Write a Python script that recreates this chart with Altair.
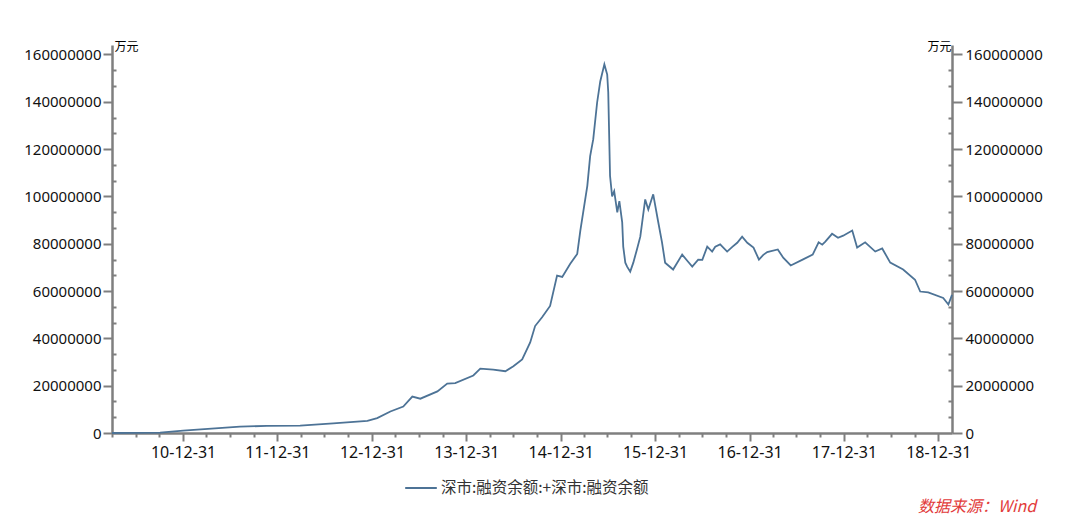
import altair as alt
import pandas as pd

# ---- data (values in 万元) ----
dates = [
    "2010-03-31", "2010-06-30", "2010-10-03", "2010-12-31", "2011-08-08", "2011-11-20",
    "2012-03-28", "2012-08-03", "2012-12-13", "2013-01-20", "2013-03-12", "2013-05-01",
    "2013-06-05", "2013-07-06", "2013-09-10", "2013-10-18", "2013-11-18", "2014-01-27",
    "2014-02-23", "2014-04-14", "2014-05-31", "2014-07-01", "2014-08-04", "2014-09-04",
    "2014-09-23", "2014-10-20", "2014-11-20", "2014-12-17", "2015-01-06", "2015-02-06",
    "2015-03-05", "2015-03-17", "2015-04-13", "2015-04-24", "2015-05-06", "2015-05-21",
    "2015-06-02", "2015-06-18", "2015-06-29", "2015-07-03", "2015-07-10", "2015-07-18",
    "2015-07-26", "2015-08-07", "2015-08-15", "2015-08-26", "2015-08-30", "2015-09-07",
    "2015-09-14", "2015-09-26", "2015-10-08", "2015-10-22", "2015-11-04", "2015-11-23",
    "2015-12-05", "2015-12-24", "2016-01-12", "2016-01-27", "2016-02-08", "2016-03-10",
    "2016-04-14", "2016-05-07", "2016-05-23", "2016-06-15", "2016-07-01", "2016-07-20",
    "2016-08-08", "2016-08-20", "2016-09-08", "2016-10-05", "2016-10-25", "2016-11-13",
    "2016-12-02", "2016-12-22", "2017-01-15", "2017-02-05", "2017-02-22", "2017-03-09",
    "2017-04-19", "2017-05-10", "2017-06-08", "2017-07-24", "2017-09-01", "2017-09-24",
    "2017-10-08", "2017-10-19", "2017-11-15", "2017-12-08", "2017-12-28", "2018-02-01",
    "2018-02-20", "2018-03-23", "2018-05-01", "2018-05-28", "2018-06-28", "2018-08-17",
    "2018-10-02", "2018-10-22", "2018-11-22", "2019-01-19", "2019-02-08", "2019-02-22",
]
values_m = [
    0.0, 0.05, 0.2, 1.0, 2.7, 3.0,
    3.1, 4.1, 5.1, 6.3, 9.1, 11.2,
    15.4, 14.5, 17.6, 20.9, 21.1, 24.3,
    27.2, 26.8, 26.1, 28.2, 31.1, 38.3,
    45.2, 48.9, 53.7, 66.5, 66.0, 71.5,
    75.7, 85.5, 104.5, 117.0, 124.2, 139.7,
    148.6, 155.8, 151.5, 144.0, 108.6, 100.0,
    102.2, 93.3, 98.0, 89.0, 78.8, 72.0,
    70.3, 68.2, 72.0, 77.6, 83.0, 98.7,
    94.5, 100.9, 89.4, 80.6, 72.0, 69.1,
    75.4, 72.4, 70.3, 73.3, 73.2, 78.8,
    76.7, 78.7, 79.7, 76.7, 78.7, 80.4,
    83.0, 80.4, 78.4, 73.3, 75.3, 76.5,
    77.6, 74.1, 70.8, 73.3, 75.4, 80.6,
    79.6, 80.8, 84.2, 82.5, 83.4, 85.6,
    78.4, 80.6, 76.7, 78.0, 72.0, 69.1,
    64.8, 59.8, 59.4, 57.1, 54.3, 58.4,
]
series_name = "深市:融资余额:+深市:融资余额"
unit_label = "万元"
source_text = "数据来源：Wind"

y_major = [0, 20000000, 40000000, 60000000, 80000000, 100000000,
           120000000, 140000000, 160000000]
y_minor = [v + k * 20000000 / 3 for v in y_major[:-1] for k in (1, 2)]
x_major = [alt.DateTime(year=y, month=12, date=31) for y in range(2010, 2019)]
x_minor = [alt.DateTime(year=y, month=m, date=d)
           for y in range(2010, 2019) for (m, d) in ((3, 31), (6, 30), (9, 30))]

df = pd.DataFrame({
    "date": [d + "T00:00:00" for d in dates],
    "value": [v * 1_000_000 for v in values_m],
    "series": series_name,
})

LINE = "#4d7396"
AX = "#7f7f7f"
NUM_FONT = "Noto Sans"
CJK_FONT = "Noto Sans CJK SC"

x_scale = alt.Scale(domain=[alt.DateTime(year=2010, month=3, date=31),
                            alt.DateTime(year=2019, month=2, date=22)])
y_scale = alt.Scale(domain=[0, 164000000], nice=False)

common_axis = dict(grid=False, domainColor=AX, tickColor=AX, domainWidth=2.5,
                   tickWidth=2, labelColor="#111111", labelFont=NUM_FONT)

x_major_axis = alt.Axis(orient="bottom", values=x_major, format="%y-%m-%d",
                        tickSize=8, labelPadding=3, labelFontSize=16,
                        title=None, labelFlush=False, labelOverlap=False, **common_axis)
x_minor_axis = alt.Axis(orient="bottom", values=x_minor, labels=False, tickSize=4,
                        domain=False, title=None, grid=False, tickColor=AX, tickWidth=2)

y_left_axis = alt.Axis(orient="left", values=y_major, format="d", tickSize=9,
                       labelPadding=2, labelFontSize=15, title=unit_label,
                       titleAngle=0, titleX=2, titleY=5, titleAlign="left",
                       titleBaseline="alphabetic", titleFont=CJK_FONT,
                       titleFontSize=12, titleFontWeight="normal", titleColor="#000000",
                       labelFlush=False, **common_axis)
y_right_axis = alt.Axis(orient="right", values=y_major, format="d", tickSize=10,
                        labelPadding=3, labelFontSize=15, title=unit_label,
                        titleAngle=0, titleX=-1, titleY=5, titleAlign="right",
                        titleBaseline="alphabetic", titleFont=CJK_FONT,
                        titleFontSize=12, titleFontWeight="normal", titleColor="#000000",
                        labelFlush=False, **common_axis)
y_left_minor = alt.Axis(orient="left", values=y_minor, labels=False, tickSize=4,
                        offset=-4, domain=False, title=None, grid=False,
                        tickColor=AX, tickWidth=2)
y_right_minor = alt.Axis(orient="right", values=y_minor, labels=False, tickSize=4,
                         offset=-4, domain=False, title=None, grid=False,
                         tickColor=AX, tickWidth=2)

base = alt.Chart(df)

main = base.mark_line(strokeWidth=1.8).encode(
    x=alt.X("date:T", scale=x_scale, axis=x_major_axis),
    y=alt.Y("value:Q", scale=y_scale, axis=y_left_axis),
    color=alt.Color("series:N", scale=alt.Scale(range=[LINE]),
                    legend=alt.Legend(title=None, orient="none", legendX=292, legendY=426,
                                      symbolType="stroke", symbolSize=1000,
                                      symbolStrokeWidth=2, labelFont=CJK_FONT,
                                      labelFontSize=15.5, labelColor="#333333",
                                      labelLimit=400, padding=0, labelOffset=3)),
)
ghost2 = base.mark_line(strokeOpacity=0).encode(
    x=alt.X("date:T", scale=x_scale, axis=x_minor_axis),
    y=alt.Y("value:Q", scale=y_scale, axis=y_right_axis),
)
ghost3 = base.mark_line(strokeOpacity=0).encode(
    x=alt.X("date:T", scale=x_scale, axis=None),
    y=alt.Y("value:Q", scale=y_scale, axis=y_left_minor),
)
ghost4 = base.mark_line(strokeOpacity=0).encode(
    x=alt.X("date:T", scale=x_scale, axis=None),
    y=alt.Y("value:Q", scale=y_scale, axis=y_right_minor),
)
source = alt.Chart(pd.DataFrame({"t": [source_text]})).mark_text(
    align="left", baseline="middle", font=CJK_FONT, fontSize=16,
    fontStyle="italic", color="#e23b3b",
).encode(text="t:N", x=alt.value(806), y=alt.value(462))

chart = alt.layer(main, ghost2, ghost3, ghost4, source).resolve_axis(
    x="independent", y="independent"
).properties(
    width=840, height=388,
    autosize=alt.AutoSizeParams(type="none"),
    padding={"left": 104, "top": 37, "right": 105, "bottom": 87},
    background="white",
).configure_view(stroke=None)

chart.save("out.html", embed_options={"renderer": "svg", "actions": False})
